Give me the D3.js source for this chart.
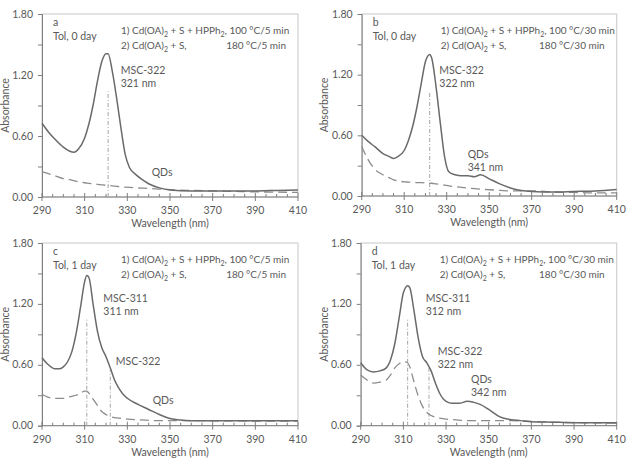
<!DOCTYPE html>
<html>
<head>
<meta charset="utf-8">
<script src="https://cdn.jsdelivr.net/npm/d3@7/dist/d3.min.js"></script>
<style>
  body { margin: 0; background: #fff; }
  svg { font-family: Lato, "Open Sans", sans-serif; }
  text { fill: #595959; }
</style>
</head>
<body>
<svg id="chart" width="629" height="458"></svg>
<script>
// x ticks / y ticks
const xTicks = [290, 310, 330, 350, 370, 390, 410];
const yTicks = [0, 0.6, 1.2, 1.8];

// panel a: Tol, 0 day, 5 min
const aWl = [290, 293, 296, 300, 303, 305, 307, 310, 312, 314, 316, 318, 320, 321, 323, 325, 327, 329, 331, 334, 337, 340, 345, 350, 360, 370, 380, 390, 400, 410];
const aSolid = [0.725, 0.64, 0.57, 0.49, 0.45, 0.44, 0.47, 0.58, 0.72, 0.91, 1.14, 1.33, 1.41, 1.41, 1.23, 0.97, 0.68, 0.42, 0.29, 0.22, 0.17, 0.13, 0.09, 0.07, 0.06, 0.06, 0.06, 0.06, 0.065, 0.07];
const aDash = [0.25, 0.23, 0.21, 0.18, 0.17, 0.16, 0.15, 0.14, 0.135, 0.13, 0.125, 0.12, 0.115, 0.113, 0.11, 0.105, 0.1, 0.097, 0.094, 0.09, 0.087, 0.084, 0.078, 0.072, 0.065, 0.06, 0.055, 0.05, 0.048, 0.045];

// panel b: Tol, 0 day, 30 min
const bWl = [290, 293, 296, 300, 303, 305, 307, 310, 312, 314, 316, 318, 320, 322, 323, 325, 327, 329, 331, 334, 337, 340, 343, 346, 350, 355, 360, 365, 370, 380, 390, 400, 410];
const bSolid = [0.6, 0.54, 0.49, 0.42, 0.39, 0.37, 0.39, 0.45, 0.55, 0.69, 0.88, 1.11, 1.33, 1.4, 1.36, 1.08, 0.72, 0.39, 0.24, 0.21, 0.2, 0.2, 0.19, 0.21, 0.17, 0.12, 0.08, 0.055, 0.045, 0.04, 0.045, 0.05, 0.065];
const bDash = [0.49, 0.36, 0.27, 0.21, 0.18, 0.16, 0.15, 0.14, 0.138, 0.135, 0.133, 0.132, 0.13, 0.128, 0.126, 0.12, 0.115, 0.108, 0.1, 0.092, 0.085, 0.078, 0.072, 0.067, 0.062, 0.056, 0.05, 0.05, 0.05, 0.04, 0.035, 0.03, 0.03];

// panel c: Tol, 1 day, 5 min
const cWl = [290, 293, 296, 298, 300, 302, 304, 306, 308, 310, 311, 312, 314, 316, 318, 320, 322, 324, 326, 328, 330, 335, 340, 345, 350, 355, 360, 370, 380, 390, 400, 410];
const cSolid = [0.67, 0.6, 0.56, 0.56, 0.58, 0.63, 0.73, 0.91, 1.16, 1.42, 1.48, 1.46, 1.19, 0.93, 0.77, 0.68, 0.57, 0.45, 0.37, 0.31, 0.27, 0.21, 0.16, 0.11, 0.07, 0.055, 0.05, 0.05, 0.05, 0.05, 0.05, 0.05];
const cDash = [0.31, 0.28, 0.27, 0.27, 0.27, 0.28, 0.29, 0.3, 0.32, 0.34, 0.34, 0.32, 0.26, 0.2, 0.14, 0.11, 0.09, 0.08, 0.075, 0.07, 0.065, 0.058, 0.052, 0.05, 0.05, 0.05, 0.05, 0.048, 0.047, 0.046, 0.045, 0.045];

// panel d: Tol, 1 day, 30 min
const dWl = [290, 293, 296, 299, 302, 304, 306, 308, 310, 312, 313, 315, 317, 319, 321, 323, 325, 327, 330, 333, 336, 340, 343, 346, 350, 355, 360, 365, 370, 380, 390, 400, 410];
const dSolid = [0.62, 0.55, 0.53, 0.54, 0.57, 0.65, 0.81, 1.06, 1.31, 1.38, 1.36, 1.13, 0.86, 0.68, 0.62, 0.54, 0.42, 0.32, 0.24, 0.22, 0.22, 0.24, 0.23, 0.21, 0.16, 0.09, 0.06, 0.05, 0.04, 0.035, 0.03, 0.03, 0.03];
const dDash = [0.5, 0.45, 0.42, 0.43, 0.45, 0.5, 0.57, 0.61, 0.63, 0.62, 0.58, 0.43, 0.29, 0.19, 0.13, 0.1, 0.085, 0.075, 0.065, 0.06, 0.055, 0.05, 0.05, 0.05, 0.05, 0.05, 0.05, 0.047, 0.043, 0.035, 0.03, 0.028, 0.025];

// peak marker lines [wavelength, height]
const aMarks = [[321, 1.04]];
const bMarks = [[322, 1.03]];
const cMarks = [[311, 1.05], [322, 0.56]];
const dMarks = [[312, 1.05], [322, 0.57]];

const svg = d3.select('#chart');

const panels = [
  { left: 42, top: 14, w: 256, h: 183, wl: aWl, solid: aSolid, dash: aDash, marks: aMarks,
    letter: 'a', tol: 'Tol, 0 day', time: '5 min', yTitleX: 9,
    notes: [{ x: 120.7, y: 74, lines: ['MSC-322', '321 nm'] }, { x: 151.7, y: 176, lines: ['QDs'] }] },
  { left: 361.7, top: 14, w: 255, h: 182, wl: bWl, solid: bSolid, dash: bDash, marks: bMarks,
    letter: 'b', tol: 'Tol, 0 day', time: '30 min', yTitleX: 328,
    notes: [{ x: 439.3, y: 74, lines: ['MSC-322', '322 nm'] }, { x: 467.7, y: 158, lines: ['QDs', '341 nm'] }] },
  { left: 42, top: 243, w: 256, h: 182.7, wl: cWl, solid: cSolid, dash: cDash, marks: cMarks,
    letter: 'c', tol: 'Tol, 1 day', time: '5 min', yTitleX: 9,
    notes: [{ x: 103.3, y: 302, lines: ['MSC-311', '311 nm'] }, { x: 115.7, y: 365, lines: ['MSC-322'] }, { x: 152.7, y: 404, lines: ['QDs'] }] },
  { left: 360.7, top: 243, w: 256, h: 182.7, wl: dWl, solid: dSolid, dash: dDash, marks: dMarks,
    letter: 'd', tol: 'Tol, 1 day', time: '30 min', yTitleX: 328,
    notes: [{ x: 425.7, y: 302, lines: ['MSC-311', '312 nm'] }, { x: 437.7, y: 355, lines: ['MSC-322', '322 nm'] }, { x: 471, y: 383, lines: ['QDs', '342 nm'] }] }
];

panels.forEach(drawPanel);

function drawPanel(p) {
  const g = svg.append('g').attr('transform', `translate(${p.left},${p.top})`);
  const x = d3.scaleLinear().domain([290, 410]).range([0, p.w]);
  const y = d3.scaleLinear().domain([0, 1.8]).range([p.h, 0]);

  // frame
  g.append('rect')
    .attr('width', p.w).attr('height', p.h)
    .attr('fill', 'none').attr('stroke', '#c8c8c8').attr('stroke-width', 1);

  // y axis: labels every 0.6, ticks every 0.3
  const yAxis = g.append('g').call(d3.axisLeft(y).tickValues(d3.range(0, 1.81, 0.3)).tickSize(4).tickFormat(''));
  yAxis.select('.domain').attr('stroke', '#7f7f7f');
  yAxis.selectAll('.tick line').attr('stroke', '#7f7f7f');
  g.selectAll('.ylab').data(yTicks).enter().append('text')
    .attr('x', -9).attr('y', d => y(d) + 3.5)
    .attr('text-anchor', 'end').style('font-size', '10.5px')
    .text(d => d.toFixed(2));

  // x axis: minor every 5 nm, major labeled
  const xa = g.append('g').attr('transform', `translate(0,${p.h})`);
  xa.append('line').attr('x1', 0).attr('x2', p.w).attr('stroke', '#7f7f7f');
  xa.selectAll('.minor').data(d3.range(295, 410, 5).filter(v => v % 20 !== 10))
    .enter().append('line')
    .attr('x1', d => x(d)).attr('x2', d => x(d)).attr('y1', -3).attr('y2', 0)
    .attr('stroke', '#7f7f7f');
  xa.selectAll('.major').data(xTicks).enter().append('line')
    .attr('x1', d => x(d)).attr('x2', d => x(d)).attr('y1', -4).attr('y2', 4)
    .attr('stroke', '#7f7f7f');
  xa.selectAll('.xlab').data(xTicks).enter().append('text')
    .attr('x', d => x(d)).attr('y', 17).attr('text-anchor', 'middle')
    .style('font-size', '10.5px').text(d => d);

  // axis titles
  svg.append('text')
    .attr('transform', `translate(${p.yTitleX},${p.top + p.h / 2}) rotate(-90)`)
    .attr('text-anchor', 'middle').style('font-size', '10.5px').text('Absorbance');
  g.append('text')
    .attr('x', p.w / 2).attr('y', p.h + 30).attr('text-anchor', 'middle')
    .style('font-size', '10.5px').text('Wavelength (nm)');

  // peak marker lines
  g.selectAll('.mark').data(p.marks).enter().append('line')
    .attr('x1', d => x(d[0])).attr('x2', d => x(d[0]))
    .attr('y1', y(0)).attr('y2', d => y(d[1]))
    .attr('stroke', '#a6a6a6').attr('stroke-width', 1)
    .attr('stroke-dasharray', '4,2,1,2');

  const line = d3.line().x((d, i) => x(p.wl[i])).y(d => y(d)).curve(d3.curveMonotoneX);

  g.append('path').datum(p.dash)
    .attr('d', line).attr('fill', 'none')
    .attr('stroke', '#8c8c8c').attr('stroke-width', 1.3)
    .attr('stroke-dasharray', '9,5');
  g.append('path').datum(p.solid)
    .attr('d', line).attr('fill', 'none')
    .attr('stroke', '#6a6a6a').attr('stroke-width', 1.5);

  // panel letter + solvent
  const lx = 11;
  g.append('text').attr('x', lx).attr('y', 12).style('font-size', '10.5px').text(p.letter);
  g.append('text').attr('x', lx).attr('y', 26).style('font-size', '10.5px').text(p.tol);

  // synthesis legend
  const legX = 79;
  const t1 = g.append('text').attr('x', legX).attr('y', 20).style('font-size', '10px');
  t1.append('tspan').text('1) Cd(OA)');
  t1.append('tspan').attr('dy', 2.5).style('font-size', '7px').text('2');
  t1.append('tspan').attr('dy', -2.5).text(' + S + HPPh');
  t1.append('tspan').attr('dy', 2.5).style('font-size', '7px').text('2');
  t1.append('tspan').attr('dy', -2.5).text(`, 100 °C/${p.time}`);
  const t2 = g.append('text').attr('x', legX).attr('y', 35).style('font-size', '10px');
  t2.append('tspan').text('2) Cd(OA)');
  t2.append('tspan').attr('dy', 2.5).style('font-size', '7px').text('2');
  t2.append('tspan').attr('dy', -2.5).text(' + S,');
  g.append('text').attr('x', p.w - 12).attr('y', 35).attr('text-anchor', 'end')
    .style('font-size', '10px').text(`180 °C/${p.time}`);

  // annotations
  p.notes.forEach(n => {
    n.lines.forEach((s, i) => {
      svg.append('text').attr('x', n.x).attr('y', n.y + i * 13)
        .style('font-size', '10.5px').text(s);
    });
  });
}
</script>
</body>
</html>
